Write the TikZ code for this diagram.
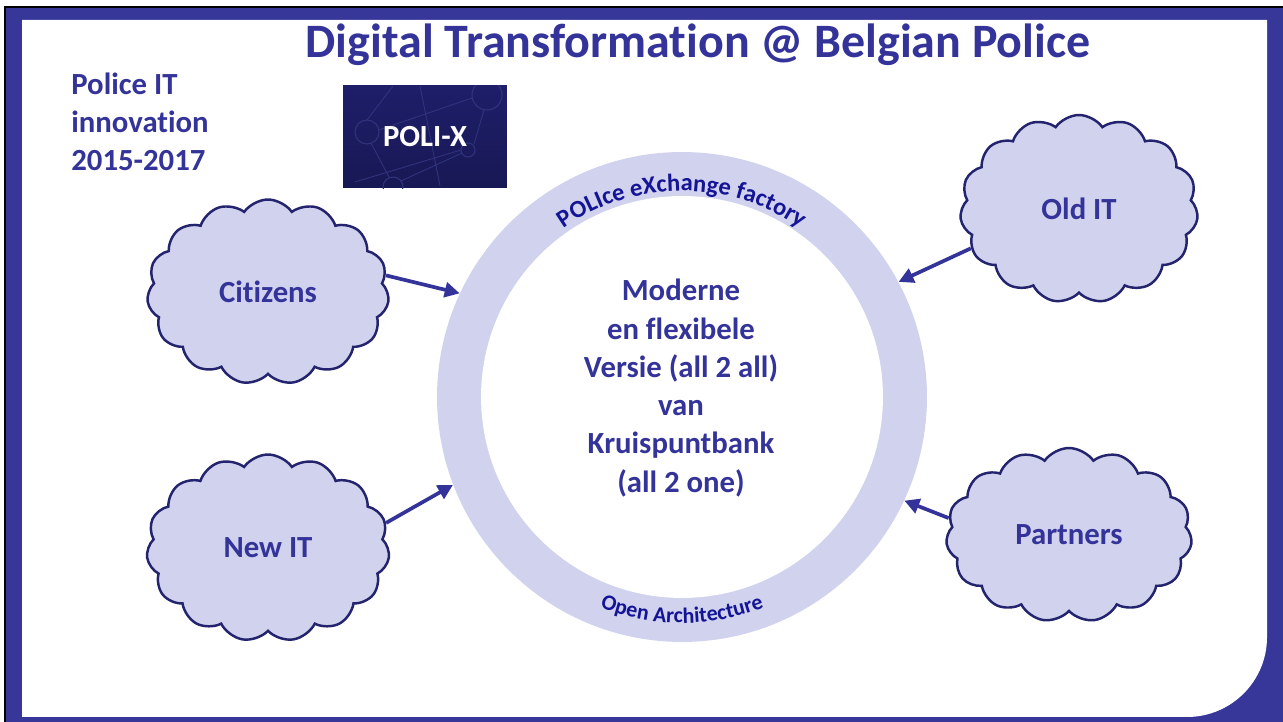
\documentclass[tikz,border=0pt]{standalone}
\usepackage{fontspec}
\setmainfont{Carlito}[Ligatures=NoCommon]
\usetikzlibrary{shapes.symbols,arrows.meta,decorations.text,calc}

\definecolor{polblue}{RGB}{51,51,153}
\definecolor{frameblue}{RGB}{55,54,153}
\definecolor{ringfill}{RGB}{208,210,238}
\definecolor{cloudline}{RGB}{35,35,110}
\definecolor{arctext}{RGB}{20,20,150}
\definecolor{navytop}{RGB}{30,30,105}
\definecolor{navybot}{RGB}{24,24,85}
\definecolor{netline}{RGB}{48,52,125}

\tikzset{
  cloudbox/.style={cloud, cloud puffs=15, cloud puff arc=110, aspect=1.3,
    fill=ringfill, draw=cloudline, line width=1.4pt, inner sep=0pt,
    font=\bfseries\fontsize{17.5}{21}\selectfont, text=polblue},
  feed/.style={-{Triangle[length=8.5pt,width=8.5pt]}, line width=2.1pt, draw=polblue},
  bigtext/.style={font=\bfseries\fontsize{17.5}{21.8}\selectfont, text=polblue, align=center, inner sep=0pt}
}

\begin{document}
\begin{tikzpicture}[x=0.02cm,y=0.02cm]
\useasboundingbox (0,0) rectangle (1283,722);

% frame
\fill[white] (0,0) rectangle (1283,722);
\fill[frameblue] (5,0) rectangle (1283,715);
\draw[black, line width=1.2pt] (5,0) -- (5,715) -- (1283,715);
\fill[white] (22,702) -- (1267,702) -- (1267,85)
  arc[start angle=0, end angle=-90, radius=80] -- (22,5) -- cycle;

% title and side text
\node[font=\bfseries\fontsize{27.3}{32}\selectfont, text=polblue] (title) at (698,677)
  {Digital Transformation @ Belgian Police};
\node[bigtext, align=left, anchor=west] (period) at (71,600)
  {Police IT\\innovation\\2015-2017};

% POLI-X logo
\node[rectangle, minimum width=3.28cm, minimum height=2.04cm, inner sep=0pt,
  top color=navytop, bottom color=navybot] (polix) at (425,585) {};
\begin{scope}
\clip (polix.south west) rectangle (polix.north east);
\draw[netline, line width=0.6pt] (487,627) circle[radius=15];
\draw[netline, line width=0.6pt] (367,590) circle[radius=12];
\draw[netline, line width=0.6pt] (468,572) circle[radius=7];
\draw[netline, line width=0.6pt] (393,535) circle[radius=10];
\draw[netline, line width=0.5pt] (379,592) -- (472,624);
\draw[netline, line width=0.5pt] (474,578) -- (484,612);
\draw[netline, line width=0.5pt] (401,541) -- (462,569);
\draw[netline, line width=0.5pt] (371,579) -- (389,545);
\draw[netline, line width=0.5pt] (393,636) -- (367,602);
\draw[netline, line width=0.5pt] (355,540) -- (461,572);
\draw[netline, line width=0.5pt] (420,636) -- (440,536);
\end{scope}
\node[font=\bfseries\fontsize{17.5}{21}\selectfont, text=white] (polixlabel) at (polix) {POLI-X};

% ring
\node[circle, fill=ringfill, minimum size=9.8cm, inner sep=0pt] (ring) at (682,325) {};
\node[circle, fill=white, minimum size=8.04cm, inner sep=0pt] (core) at (ring) {};
\path[decorate, decoration={text along path, text align=center,
  text={|\fontsize{14}{16}\selectfont\bfseries\color{arctext}|POLIce eXchange factory}}]
  ($(ring.center)+(140:206)$) arc[start angle=140, end angle=40, radius=206];
\path[decorate, decoration={text along path, text align=center,
  text={|\fontsize{12.5}{15}\selectfont\bfseries\color{arctext}|Open Architecture}}]
  ($(ring.center)+(238:226)$) arc[start angle=238, end angle=302, radius=226];
\node[bigtext] (hub) at (681,334)
  {Moderne\\en flexibele\\Versie (all 2 all)\\van\\Kruispuntbank\\(all 2 one)};

% clouds
\node[cloudbox, minimum width=4.84cm, minimum height=3.7cm] (citizens) at (268,430) {Citizens};
\node[cloudbox, minimum width=4.86cm, minimum height=3.74cm] (newit) at (268,174) {New IT};
\node[cloudbox, minimum width=4.76cm, minimum height=3.76cm] (oldit) at (1079,513) {Old IT};
\node[cloudbox, minimum width=4.92cm, minimum height=3.48cm] (partners) at (1069,187) {Partners};

% arrows
\draw[feed] (citizens.8) -- (ring.155);
\draw[feed] (newit.12) -- (ring.201);
\draw[feed] (oldit.200) -- (ring.28);
\draw[feed] (partners.172) -- (ring.335);

\end{tikzpicture}
\end{document}
